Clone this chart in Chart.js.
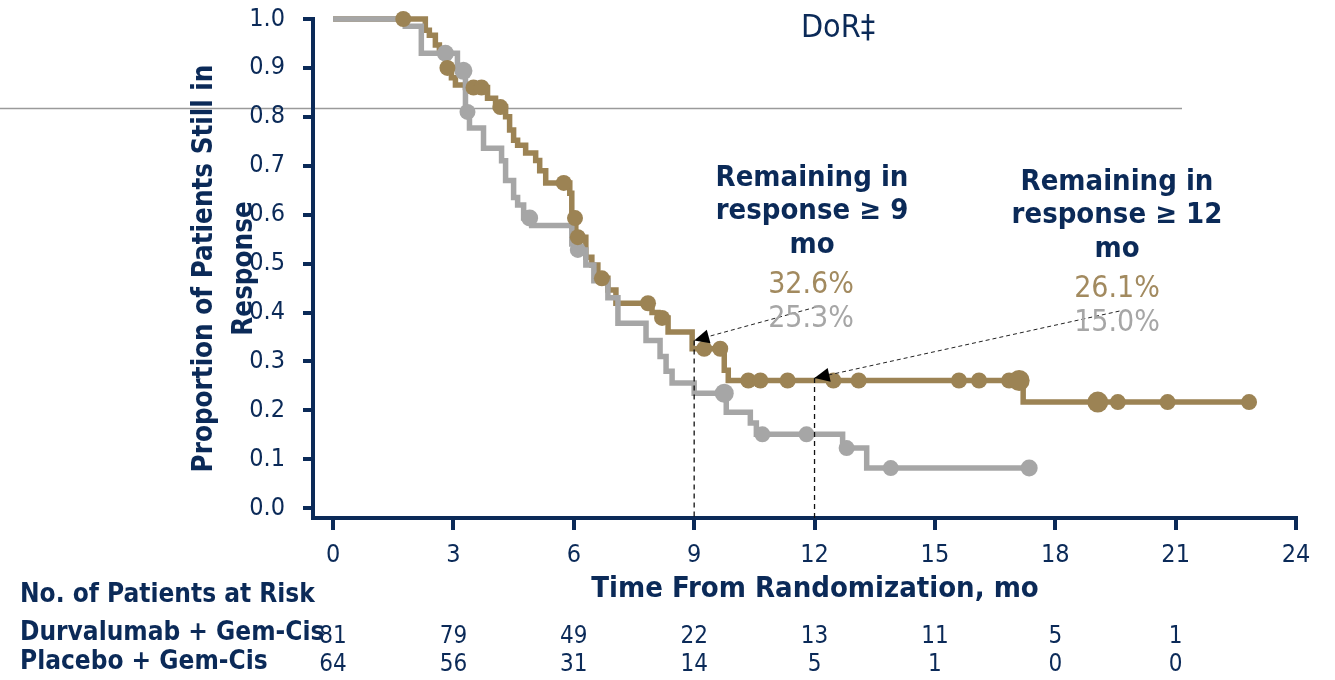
<!DOCTYPE html>
<html>
<head>
<meta charset="utf-8">
<script src="https://cdn.jsdelivr.net/npm/chart.js@4.4.0/dist/chart.umd.min.js"></script>
<style>
  html, body { margin: 0; padding: 0; background: #fff; }
</style>
</head>
<body>
<canvas id="kmChart" width="1335" height="680"></canvas>
<script>
const xTicks = [0, 3, 6, 9, 12, 15, 18, 21, 24];
const yTicks = [0, 0.1, 0.2, 0.3, 0.4, 0.5, 0.6, 0.7, 0.8, 0.9, 1.0];

// step curves: time of each drop and the value after it (last entry = end of follow-up)
const durvaTimes = [0, 2.3, 2.4, 2.55, 2.65, 2.8, 2.95, 3.05, 3.3, 3.85, 4.05, 4.3, 4.4, 4.5, 4.6, 4.8, 5.05, 5.15, 5.3, 5.9, 5.95, 6.05, 6.3, 6.45, 6.6, 6.85, 7.05, 7.95, 8.1, 8.35, 8.95, 9.75, 9.85, 17.2, 22.83];
const durvaSurv  = [1.0, 0.977, 0.967, 0.947, 0.93, 0.90, 0.88, 0.865, 0.86, 0.838, 0.82, 0.80, 0.773, 0.752, 0.742, 0.726, 0.711, 0.69, 0.665, 0.644, 0.593, 0.554, 0.513, 0.497, 0.47, 0.446, 0.419, 0.40, 0.389, 0.36, 0.326, 0.282, 0.261, 0.217, 0.217];
const durvaCensor = [1.75, 2.85, 3.5, 3.7, 4.17, 5.75, 6.03, 6.1, 6.7, 7.85, 8.2, 9.25, 9.65, 10.35, 10.65, 11.33, 12.47, 13.1, 15.6, 16.1, 16.85, 17.1, 19.06, 19.56, 20.8, 22.83];
const durvaCensorR = [8, 8, 8, 8, 8, 8, 8, 8, 8, 8, 8, 8, 8, 8, 8, 8, 8, 8, 8, 8, 8, 10.5, 10.5, 8, 8, 8];

const placeboTimes = [0, 1.8, 2.2, 3.1, 3.3, 3.4, 3.75, 4.2, 4.3, 4.5, 4.6, 4.75, 4.95, 5.95, 6.1, 6.3, 6.5, 6.85, 7.1, 7.8, 8.15, 8.3, 8.45, 9.0, 9.8, 10.4, 10.55, 12.7, 13.3, 17.35];
const placeboSurv  = [1.0, 0.985, 0.93, 0.894, 0.81, 0.777, 0.736, 0.71, 0.67, 0.635, 0.62, 0.593, 0.578, 0.54, 0.528, 0.497, 0.465, 0.43, 0.378, 0.343, 0.31, 0.28, 0.256, 0.235, 0.196, 0.174, 0.151, 0.123, 0.082, 0.082];
const placeboCensor = [2.8, 3.25, 3.35, 4.9, 6.1, 9.75, 10.7, 11.8, 12.8, 13.9, 17.35];
const placeboCensorR = [8.5, 9, 8, 8.5, 8, 9.5, 8, 8, 8, 8, 8.5];

const riskTimes = [0, 3, 6, 9, 12, 15, 18, 21];
const durvaRisk = [81, 79, 49, 22, 13, 11, 5, 1];
const placeboRisk = [64, 56, 31, 14, 5, 1, 0, 0];

const landmarkTimes = [9, 12];
const landmarkTip = [0.343, 0.266];
const durvaLandmark = ["32.6%", "26.1%"];
const placeboLandmark = ["25.3%", "15.0%"];

const NAVY = "#0b2a58";
const GOLD = "#9c8354";
const GOLD_TXT = "#a28a5f";
const GRAY = "#a6a6a6";
const FAM = "'DejaVu Sans Condensed', 'DejaVu Sans', sans-serif";

function survAt(times, surv, t) {
  let v = surv[0];
  for (let i = 0; i < times.length; i++) {
    if (times[i] <= t) v = surv[i];
  }
  return v;
}

function stepData(times, surv) {
  return times.map((t, i) => ({ x: t, y: surv[i] }));
}

function censorData(cens, times, surv) {
  return cens.map(t => ({ x: t, y: survAt(times, surv, t) }));
}

function arrow(ctx, x1, y1, x2, y2) {
  ctx.save();
  ctx.strokeStyle = "#222";
  ctx.lineWidth = 1;
  ctx.setLineDash([4, 3]);
  ctx.beginPath();
  ctx.moveTo(x1, y1);
  ctx.lineTo(x2, y2);
  ctx.stroke();
  ctx.setLineDash([]);
  const a = Math.atan2(y2 - y1, x2 - x1);
  const len = 15, w = 7;
  ctx.fillStyle = "#000";
  ctx.beginPath();
  ctx.moveTo(x2, y2);
  ctx.lineTo(x2 - len * Math.cos(a) + w * Math.sin(a), y2 - len * Math.sin(a) - w * Math.cos(a));
  ctx.lineTo(x2 - len * Math.cos(a) - w * Math.sin(a), y2 - len * Math.sin(a) + w * Math.cos(a));
  ctx.closePath();
  ctx.fill();
  ctx.restore();
}

const annotate = {
  id: "annotate",
  beforeDraw(chart) {
    // stray slide rule across the picture
    const ctx = chart.ctx;
    ctx.save();
    ctx.strokeStyle = "#9a9a9a";
    ctx.lineWidth = 1.5;
    ctx.beginPath();
    ctx.moveTo(0, 108.5);
    ctx.lineTo(1182, 108.5);
    ctx.stroke();
    ctx.restore();
  },
  afterDatasetsDraw(chart) {
    const ctx = chart.ctx;
    const xs = chart.scales.x, ys = chart.scales.y;

    // landmark dashed verticals
    ctx.save();
    ctx.strokeStyle = "#111";
    ctx.lineWidth = 1.3;
    ctx.setLineDash([5, 4]);
    landmarkTimes.forEach((t, i) => {
      const px = xs.getPixelForValue(t);
      ctx.beginPath();
      ctx.moveTo(px, ys.getPixelForValue(landmarkTip[i]));
      ctx.lineTo(px, ys.bottom);
      ctx.stroke();
    });
    ctx.restore();

    arrow(ctx, xs.getPixelForValue(12.03), ys.getPixelForValue(0.411), xs.getPixelForValue(landmarkTimes[0]), ys.getPixelForValue(landmarkTip[0]));
    arrow(ctx, xs.getPixelForValue(19.6), ys.getPixelForValue(0.403), xs.getPixelForValue(landmarkTimes[1]), ys.getPixelForValue(landmarkTip[1]));

    ctx.save();
    ctx.textAlign = "center";
    ctx.textBaseline = "alphabetic";

    ctx.fillStyle = NAVY;
    ctx.font = "32px " + FAM;
    ctx.fillText("DoR\u2021", 838, 37);

    ctx.font = "bold 29px " + FAM;
    ctx.fillText("Remaining in", 812, 186);
    ctx.fillText("response \u2265 9", 812, 219);
    ctx.fillText("mo", 812, 253);
    ctx.fillText("Remaining in", 1117, 190);
    ctx.fillText("response \u2265 12", 1117, 223);
    ctx.fillText("mo", 1117, 257);

    ctx.font = "30px " + FAM;
    ctx.fillStyle = GOLD_TXT;
    ctx.fillText(durvaLandmark[0], 811, 293);
    ctx.fillText(durvaLandmark[1], 1117, 297);
    ctx.fillStyle = GRAY;
    ctx.fillText(placeboLandmark[0], 811, 327);
    ctx.fillText(placeboLandmark[1], 1117, 331);

    // x axis title
    ctx.fillStyle = NAVY;
    ctx.font = "bold 29px " + FAM;
    ctx.fillText("Time From Randomization, mo", 815, 597);

    // numbers at risk
    ctx.font = "24px " + FAM;
    riskTimes.forEach((t, i) => {
      const px = xs.getPixelForValue(t);
      ctx.fillText(String(durvaRisk[i]), px, 643);
      ctx.fillText(String(placeboRisk[i]), px, 671);
    });
    ctx.textAlign = "left";
    ctx.font = "bold 26px " + FAM;
    ctx.fillText("No. of Patients at Risk", 20, 602);
    ctx.fillText("Durvalumab + Gem-Cis", 20, 640);
    ctx.fillText("Placebo + Gem-Cis", 20, 669);
    ctx.restore();
  }
};

new Chart(document.getElementById("kmChart"), {
  type: "line",
  data: {
    datasets: [
      {
        data: censorData(durvaCensor, durvaTimes, durvaSurv),
        showLine: false, pointRadius: durvaCensorR, pointBackgroundColor: GOLD,
        pointBorderWidth: 0, clip: false, order: 0
      },
      {
        data: censorData(placeboCensor, placeboTimes, placeboSurv),
        showLine: false, pointRadius: placeboCensorR, pointBackgroundColor: GRAY,
        pointBorderWidth: 0, clip: false, order: 1
      },
      {
        data: stepData(placeboTimes, placeboSurv),
        stepped: "before", borderColor: GRAY, borderWidth: 5.5, pointRadius: 0,
        fill: false, clip: false, order: 2
      },
      {
        data: stepData(durvaTimes, durvaSurv),
        stepped: "before", borderColor: GOLD, borderWidth: 5.5, pointRadius: 0,
        fill: false, clip: false, order: 3
      }
    ]
  },
  options: {
    responsive: false,
    animation: false,
    layout: { padding: { top: 19, right: 39, bottom: 0, left: 0 } },
    plugins: { legend: { display: false }, tooltip: { enabled: false } },
    scales: {
      x: {
        type: "linear", min: -0.5, max: 24,
        afterBuildTicks: s => { s.ticks = xTicks.map(v => ({ value: v })); },
        afterFit: s => { s.height = 162; s.paddingLeft = 0; s.paddingRight = 0; },
        grid: { drawOnChartArea: false, drawTicks: true, tickLength: 12, color: NAVY, lineWidth: 4 },
        border: { color: NAVY, width: 4 },
        ticks: { color: NAVY, font: { family: FAM, size: 25 }, padding: 10, maxRotation: 0, autoSkip: false }
      },
      y: {
        type: "linear", min: -0.02, max: 1.0,
        afterBuildTicks: s => { s.ticks = yTicks.map(v => ({ value: v })); },
        afterFit: s => { s.width = 313; s.paddingTop = 0; s.paddingBottom = 0; },
        grid: { drawOnChartArea: false, drawTicks: true, tickLength: 10, color: NAVY, lineWidth: 4 },
        border: { color: NAVY, width: 4 },
        ticks: { color: NAVY, font: { family: FAM, size: 25 }, padding: 18, callback: v => v.toFixed(1) },
        title: {
          display: true,
          text: ["Proportion of Patients Still in", "Response"],
          color: NAVY,
          font: { family: FAM, size: 27.5, weight: "bold", lineHeight: "40px" },
          padding: { top: 185, bottom: 0 }
        }
      }
    }
  },
  plugins: [annotate]
});
</script>
</body>
</html>
